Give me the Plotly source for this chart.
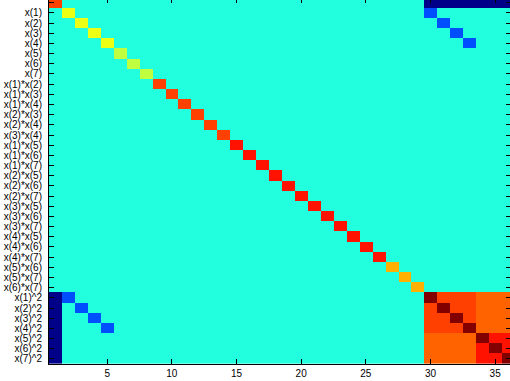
import numpy as np
import plotly.graph_objects as go

# ---- data ----
linear_labels = [f"x({i})" for i in range(1, 8)]
interaction_labels = [
    "x(1)*x(2)", "x(1)*x(3)", "x(1)*x(4)", "x(2)*x(3)", "x(2)*x(4)", "x(3)*x(4)",
    "x(1)*x(5)", "x(1)*x(6)", "x(1)*x(7)", "x(2)*x(5)", "x(2)*x(6)", "x(2)*x(7)",
    "x(3)*x(5)", "x(3)*x(6)", "x(3)*x(7)", "x(4)*x(5)", "x(4)*x(6)", "x(4)*x(7)",
    "x(5)*x(6)", "x(5)*x(7)", "x(6)*x(7)",
]
square_labels = [f"x({i})^2" for i in range(1, 8)]
term_labels = ["1"] + linear_labels + interaction_labels + square_labels

const_diag = [4.05]
linear_diag = [2.0, 2.0, 2.0, 2.0, 1.55, 1.55, 1.55]
interaction_diag = [4.05, 4.05, 4.05, 4.05, 4.05, 4.05,
                    4.5, 4.5, 4.5, 4.5, 4.5, 4.5,
                    4.5, 4.5, 4.5, 4.5, 4.5, 4.5,
                    2.95, 2.95, 2.95]
square_diag = [5.9, 5.9, 5.9, 5.9, 5.9, 5.9, 5.9]

const_vs_square = [-4.0, -4.0, -4.0, -4.0, -4.0, -4.0, -4.0]
linear_vs_own_square = [-2.05, -2.05, -2.05, -2.05, 0.0, 0.0, 0.0]
square_offdiag_1to4 = 4.05
square_offdiag_5to7 = 4.5
square_cross_groups = 3.7

zmin, zmax = -4.075, 5.925

# ---- build matrix ----
N = len(term_labels)
M = np.zeros((N, N))
diag = const_diag + linear_diag + interaction_diag + square_diag
for i, v in enumerate(diag):
    M[i, i] = v
sq0 = 1 + 7 + 21
for k in range(7):
    M[0, sq0 + k] = M[sq0 + k, 0] = const_vs_square[k]
    M[1 + k, sq0 + k] = M[sq0 + k, 1 + k] = linear_vs_own_square[k]
for a in range(7):
    for b in range(7):
        if a == b:
            continue
        if a < 4 and b < 4:
            v = square_offdiag_1to4
        elif a >= 4 and b >= 4:
            v = square_offdiag_5to7
        else:
            v = square_cross_groups
        M[sq0 + a, sq0 + b] = v

idx = list(range(1, N + 1))

jet = [[0.0, "rgb(0,0,128)"], [0.125, "rgb(0,0,255)"], [0.375, "rgb(0,255,255)"],
       [0.625, "rgb(255,255,0)"], [0.875, "rgb(255,0,0)"], [1.0, "rgb(128,0,0)"]]

fig = go.Figure()
fig.add_trace(go.Heatmap(z=M, x=idx, y=idx, colorscale=jet, zmin=zmin, zmax=zmax,
                         showscale=False, xgap=0, ygap=0))

yr = [36.5, 0.736]
xr = [0.5, 36.15]
font = dict(family="Liberation Sans, Arial, sans-serif", size=10, color="black")

fig.update_layout(
    width=510, height=381,
    margin=dict(l=49, r=0, t=0, b=17),
    paper_bgcolor="white", plot_bgcolor="white",
    font=font,
    xaxis=dict(range=xr, tickmode="array", tickvals=[5, 10, 15, 20, 25, 30, 35],
               ticks="inside", ticklen=5, tickcolor="black", showline=True,
               linecolor="black", linewidth=1, showgrid=False, zeroline=False,
               tickfont=font),
    yaxis=dict(range=yr, tickmode="array", tickvals=idx, ticktext=term_labels,
               ticks="inside", ticklen=5, tickcolor="black", showline=True,
               linecolor="black", linewidth=1, showgrid=False, zeroline=False,
               tickfont=font, ticklabelstandoff=4),
    xaxis2=dict(range=xr, overlaying="x", side="top", tickmode="array",
                tickvals=[5, 10, 15, 20, 25, 30, 35], ticks="inside", ticklen=3,
                tickcolor="black", showticklabels=False, showline=False,
                showgrid=False, zeroline=False),
    yaxis2=dict(range=yr, overlaying="y", side="right", tickmode="array",
                tickvals=idx, ticks="inside", ticklen=4, tickcolor="black",
                showticklabels=False, showline=False, showgrid=False, zeroline=False),
)
fig.add_trace(go.Scatter(x=[None], y=[None], xaxis="x2", yaxis="y2",
                         showlegend=False, hoverinfo="skip"))

fig.write_html("out.html", config={"displayModeBar": False},
               post_script="document.body.style.margin='0';document.body.style.overflow='hidden';")
